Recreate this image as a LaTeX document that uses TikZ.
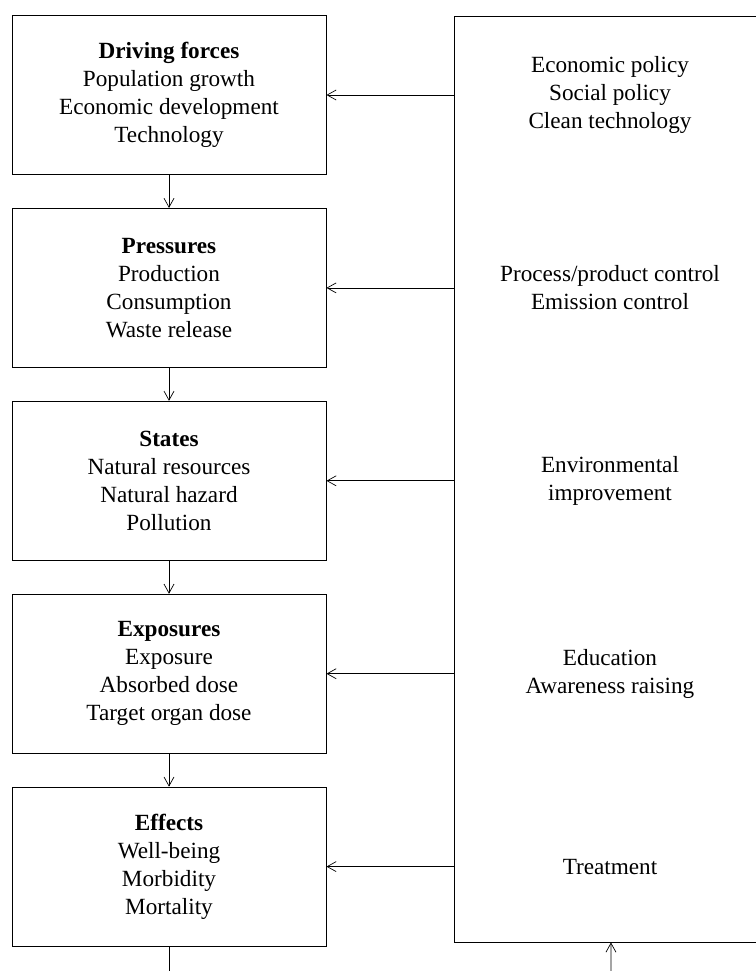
\documentclass[tikz,border=0pt]{standalone}
\usepackage{fontspec}
\setmainfont{Liberation Serif}
\usetikzlibrary{arrows.meta,positioning}

\begin{document}
\begin{tikzpicture}[x=1pt,y=-1pt,
  every node/.style={font=\fontsize{23.2}{28}\selectfont, align=center, inner sep=0pt},
  dpbox/.style={draw, line width=0.9pt, minimum width=314pt, minimum height=159pt},
  link/.style={-{Straight Barb[length=9pt,width=10pt]}, line width=0.7pt},
  node distance=33pt]
\useasboundingbox (0,0) rectangle (755,971);
% left column
\node[dpbox] (driving) at (169,95)
  {\textbf{Driving forces}\\ Population growth\\ Economic development\\ Technology};
\node[dpbox, below=of driving] (pressures)
  {\textbf{Pressures}\\ Production\\ Consumption\\ Waste release};
\node[dpbox, below=of pressures] (states)
  {\textbf{States}\\ Natural resources\\ Natural hazard\\ Pollution};
\node[dpbox, below=of states] (exposures)
  {\textbf{Exposures}\\ Exposure\\ Absorbed dose\\ Target organ dose};
\node[dpbox, below=of exposures] (effects)
  {\textbf{Effects}\\ Well-being\\ Morbidity\\ Mortality};
% actions box
\node[draw, line width=0.9pt, minimum width=312pt, minimum height=926pt] (actions) at (610,479) {};
\node (policy) at (driving -| actions) {Economic policy\\ Social policy\\ Clean technology};
\node (control) at (pressures -| actions) {Process/product control\\ Emission control};
\node (improve) at (states -| actions) {Environmental\\ improvement};
\node (educate) at (exposures -| actions) {Education\\ Awareness raising};
\node (treat) at (effects -| actions) {Treatment};
% connectors
\draw[link] (driving) -- (pressures);
\draw[link] (pressures) -- (states);
\draw[link] (states) -- (exposures);
\draw[link] (exposures) -- (effects);
\draw[link] (driving -| actions.west) -- (driving.east);
\draw[link] (pressures -| actions.west) -- (pressures.east);
\draw[link] (states -| actions.west) -- (states.east);
\draw[link] (exposures -| actions.west) -- (exposures.east);
\draw[link] (effects -| actions.west) -- (effects.east);
\coordinate (endL) at (169,971);
\coordinate (endR) at (611,971);
\draw[line width=0.7pt] (effects) -- (endL);
\draw[link] (endR) -- (actions);
\end{tikzpicture}
\end{document}
